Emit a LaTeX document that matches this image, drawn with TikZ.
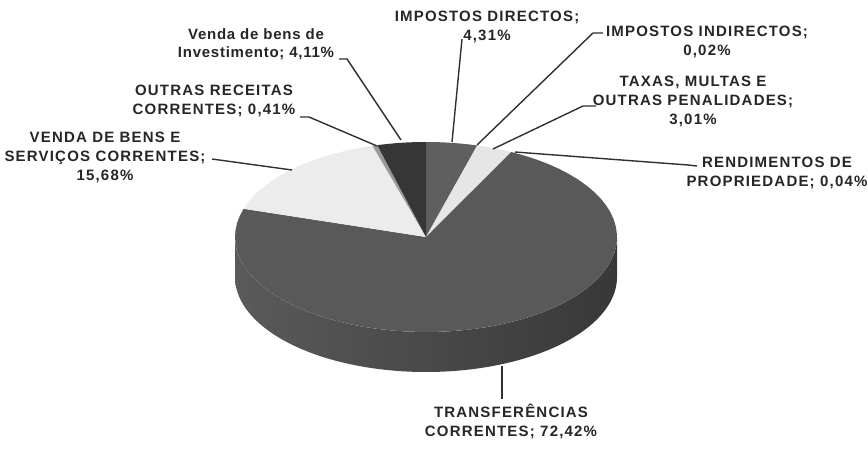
\documentclass[tikz,border=0pt]{standalone}
\usepackage{fontspec}
\newfontfamily\lblfont[LetterSpace=8]{Liberation Sans}
\newfontfamily\lowfont[LetterSpace=5]{Liberation Sans}
\definecolor{txt}{HTML}{262626}
\definecolor{lead}{HTML}{303030}
\definecolor{cDir}{HTML}{5F5F5F}
\definecolor{cInd}{HTML}{8A8A8A}
\definecolor{cTax}{HTML}{E6E6E6}
\definecolor{cRen}{HTML}{BBBBBB}
\definecolor{cTra}{HTML}{595959}
\definecolor{cVen}{HTML}{ECECEC}
\definecolor{cOut}{HTML}{9A9A9A}
\definecolor{cInv}{HTML}{363636}
\definecolor{sideL}{HTML}{5A5A5A}
\definecolor{sideR}{HTML}{383838}
\tikzset{
  lbl/.style={font=\lblfont\bfseries\fontsize{15}{19}\selectfont, text=txt, align=center, inner sep=0pt},
  lbllow/.style={font=\lowfont\bfseries\fontsize{15}{18}\selectfont, text=txt, align=center, inner sep=0pt},
  leader/.style={draw=lead, line width=1.4pt},
}
\newcommand{\cx}{426}
\newcommand{\cy}{237}
\newcommand{\rx}{191}
\newcommand{\ry}{95}
\newcommand{\dep}{40}
\newcommand{\pieslice}[3]{%
  \fill[#1] (\cx,\cy) -- plot[domain=#2:#3, samples=60, variable=\t]
    ({\cx+\rx*sin(\t)},{\cy-\ry*cos(\t)}) -- cycle;}
\begin{document}
\begin{tikzpicture}[x=1pt,y=-1pt]
\useasboundingbox (0,0) rectangle (868,450);
\fill[white] (0,0) rectangle (868,450);
% side of pie
\shade[left color=sideL, right color=sideR]
  plot[domain=90:270, samples=120, variable=\t] ({\cx+\rx*sin(\t)},{\cy-\ry*cos(\t)})
  -- plot[domain=270:90, samples=120, variable=\t] ({\cx+\rx*sin(\t)},{\cy+\dep-\ry*cos(\t)})
  -- cycle;
% top slices
\pieslice{cDir}{0}{15.516}
\pieslice{cInd}{15.516}{15.588}
\pieslice{cTax}{15.588}{26.424}
\pieslice{cRen}{26.424}{26.568}
\pieslice{cTra}{26.568}{287.28}
\pieslice{cVen}{287.28}{343.728}
\pieslice{cOut}{343.728}{345.204}
\pieslice{cInv}{345.204}{360}
% labels
\node[lbllow] (lInv) at (256,44) {Venda de bens de\\Investimento; 4,11\%};
\node[lbl] (lDir) at (487,27) {IMPOSTOS DIRECTOS;\\4,31\%};
\node[lbl] (lInd) at (707,42) {IMPOSTOS INDIRECTOS;\\0,02\%};
\node[lbl] (lTax) at (693,101) {TAXAS, MULTAS E\\OUTRAS PENALIDADES;\\3,01\%};
\node[lbl] (lRen) at (777,173) {RENDIMENTOS DE\\PROPRIEDADE; 0,04\%};
\node[lbl] (lTra) at (511,421) {TRANSFERÊNCIAS\\CORRENTES; 72,42\%};
\node[lbl] (lOut) at (214,101) {OUTRAS RECEITAS\\CORRENTES; 0,41\%};
\node[lbl] (lVen) at (105,157) {VENDA DE BENS E\\SERVIÇOS CORRENTES;\\15,68\%};
% leader points
\coordinate (invA) at (339,59); \coordinate (invB) at (347,59); \coordinate (invC) at (401,140);
\coordinate (dirA) at (462,39); \coordinate (dirC) at (452,142);
\coordinate (indA) at (603,33); \coordinate (indB) at (593,33); \coordinate (indC) at (477,145);
\coordinate (taxA) at (596,106); \coordinate (taxB) at (583,106); \coordinate (taxC) at (493,149);
\coordinate (renA) at (697,166); \coordinate (renB) at (688,165); \coordinate (renC) at (515,152);
\coordinate (traA) at (502,399); \coordinate (traC) at (502,366);
\coordinate (outA) at (300,117); \coordinate (outB) at (309,117); \coordinate (outC) at (377,146);
\coordinate (venA) at (212,159); \coordinate (venC) at (292,170);
\draw[leader] (invA) -- (invB) -- (invC);
\draw[leader] (dirA) -- (dirC);
\draw[leader] (indA) -- (indB) -- (indC);
\draw[leader] (taxA) -- (taxB) -- (taxC);
\draw[leader] (renA) -- (renB) -- (renC);
\draw[leader] (traA) -- (traC);
\draw[leader] (outA) -- (outB) -- (outC);
\draw[leader] (venA) -- (venC);
\end{tikzpicture}
\end{document}
